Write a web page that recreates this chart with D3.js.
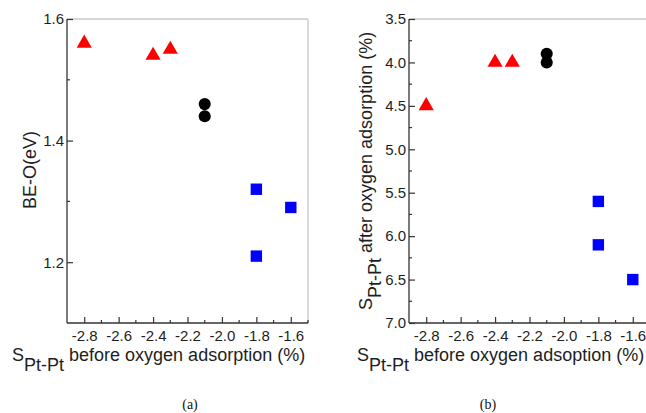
<!DOCTYPE html>
<html>
<head>
<meta charset="utf-8">
<script src="https://cdn.jsdelivr.net/npm/d3@7"></script>
<style>
  html, body { margin: 0; padding: 0; background: #fff; }
  svg { display: block; }
</style>
</head>
<body>
<svg id="chart" width="646" height="413"></svg>
<script>
// ---- data ----
const xTicks = [-2.8, -2.6, -2.4, -2.2, -2.0, -1.8, -1.6];
const xTickLabels = ["-2.8", "-2.6", "-2.4", "-2.2", "-2.0", "-1.8", "-1.6"];
const yTicksA = [1.2, 1.4, 1.6];
const yTicksB = [3.5, 4.0, 4.5, 5.0, 5.5, 6.0, 6.5, 7.0];

// panel (a): S before vs BE-O
const triXa = [-2.8, -2.4, -2.3];
const triYa = [1.56, 1.54, 1.55];
const cirXa = [-2.1, -2.1];
const cirYa = [1.46, 1.44];
const sqXa = [-1.8, -1.6, -1.8];
const sqYa = [1.32, 1.29, 1.21];

// panel (b): S before vs S after
const triXb = [-2.8, -2.4, -2.3];
const triYb = [4.5, 4.0, 4.0];
const cirXb = [-2.1, -2.1];
const cirYb = [3.9, 4.0];
const sqXb = [-1.8, -1.8, -1.6];
const sqYb = [5.6, 6.1, 6.5];

const svg = d3.select("#chart");
const FONT = "'Liberation Sans', Arial, Helvetica, sans-serif";
const AXC = "#333";
const BOXC = "#c8c8c8";

function panel(o) {
  const x = d3.scaleLinear().domain([-2.9, -1.5]).range([o.left, o.left + 241]);
  const y = d3.scaleLinear().domain(o.yDomain).range(o.yRange);
  const top = 19, bottom = 323;
  const g = svg.append("g");

  // gray box top/right
  g.append("line").attr("x1", o.left).attr("x2", o.left + 241).attr("y1", top).attr("y2", top)
    .attr("stroke", BOXC).attr("stroke-width", 1.3);
  g.append("line").attr("x1", o.left + 241).attr("x2", o.left + 241).attr("y1", top).attr("y2", bottom)
    .attr("stroke", BOXC).attr("stroke-width", 1.3);

  // x axis
  const xa = g.append("g").attr("transform", `translate(0,${bottom})`)
    .call(d3.axisBottom(x).tickValues(xTicks).tickSize(-6).tickPadding(7.3)
      .tickFormat((d, i) => xTickLabels[i]));
  const xMinor = d3.range(-2.7, -1.45, 0.2).map(v => +v.toFixed(2));
  xa.selectAll(".minor").data(xMinor).enter().append("line").attr("class", "minor")
    .attr("x1", d => x(d)).attr("x2", d => x(d)).attr("y1", 0).attr("y2", -3)
    .attr("stroke", AXC).attr("stroke-width", 1.2);

  // y axis
  const ya = g.append("g").attr("transform", `translate(${o.left},0)`)
    .call(d3.axisLeft(y).tickValues(o.yTicks).tickSize(-6).tickPadding(3)
      .tickFormat(o.fmt));
  ya.selectAll(".minor").data(o.yMinor).enter().append("line").attr("class", "minor")
    .attr("y1", d => y(d)).attr("y2", d => y(d)).attr("x1", 0).attr("x2", 3)
    .attr("stroke", AXC).attr("stroke-width", 1.2);

  [xa, ya].forEach(a => {
    a.attr("font-size", null).attr("font-family", null);
    a.select(".domain").attr("stroke", AXC).attr("stroke-width", 1.3);
    a.selectAll(".tick line").attr("stroke", AXC).attr("stroke-width", 1.2);
    a.selectAll(".tick text").attr("fill", "#1e1e1e").style("font-family", FONT).style("font-size", "15px");
  });
  xa.select(".domain").attr("d", `M${o.left},0H${o.left + 241}`);
  ya.select(".domain").attr("d", `M0,${bottom}V${top}`);

  // markers
  const tri = d3.symbol().type(d3.symbolTriangle).size(100);
  const cir = d3.symbol().type(d3.symbolCircle).size(115);
  const sq = d3.symbol().type(d3.symbolSquare).size(130);
  const add = (xs, ys, sym, col) => {
    g.selectAll(null).data(xs).enter().append("path")
      .attr("d", sym)
      .attr("transform", (d, i) => `translate(${x(d)},${y(ys[i])})`)
      .attr("fill", col);
  };
  add(o.triX, o.triY, tri, "#ff0000");
  add(o.cirX, o.cirY, cir, "#000000");
  add(o.sqX, o.sqY, sq, "#0000ff");

  // x title
  const xt = g.append("text").attr("x", o.xTitleX).attr("y", 361)
    .style("font-family", FONT).style("font-size", "18px").attr("fill", "#1e1e1e");
  xt.append("tspan").text("S");
  xt.append("tspan").attr("dy", 10).text("Pt-Pt");
  xt.append("tspan").attr("dy", -10).text(o.xTitle);

  // panel label
  g.append("text").attr("x", o.labelX).attr("y", 409).attr("text-anchor", "middle")
    .style("font-family", "'Liberation Serif', 'Times New Roman', serif").style("font-size", "14px")
    .attr("fill", "#111").text(o.label);
  return g;
}

const ga = panel({
  left: 67, yDomain: [1.1, 1.6], yRange: [323, 19], yTicks: yTicksA,
  yMinor: [1.3, 1.5], fmt: d3.format(".1f"),
  triX: triXa, triY: triYa, cirX: cirXa, cirY: cirYa, sqX: sqXa, sqY: sqYa,
  xTitleX: 12, xTitle: " before oxygen adsorption (%)", label: "(a)", labelX: 190
});
ga.append("text").attr("transform", "translate(36,170) rotate(-90)").attr("text-anchor", "middle")
  .style("font-family", FONT).style("font-size", "18px").attr("fill", "#1e1e1e").text("BE-O(eV)");

const gb = panel({
  left: 409, yDomain: [3.5, 7.0], yRange: [19, 323], yTicks: yTicksB,
  yMinor: [3.75, 4.25, 4.75, 5.25, 5.75, 6.25, 6.75], fmt: d3.format(".1f"),
  triX: triXb, triY: triYb, cirX: cirXb, cirY: cirYb, sqX: sqXb, sqY: sqYb,
  xTitleX: 357, xTitle: " before oxygen adsoption (%)", label: "(b)", labelX: 488
});
const yt = gb.append("text").attr("transform", "translate(372,310) rotate(-90)")
  .style("font-family", FONT).style("font-size", "18px").attr("fill", "#1e1e1e");
yt.append("tspan").text("S");
yt.append("tspan").attr("dy", 9).text("Pt-Pt");
yt.append("tspan").attr("dy", -9).text(" after oxygen adsorption (%)");
</script>
</body>
</html>
